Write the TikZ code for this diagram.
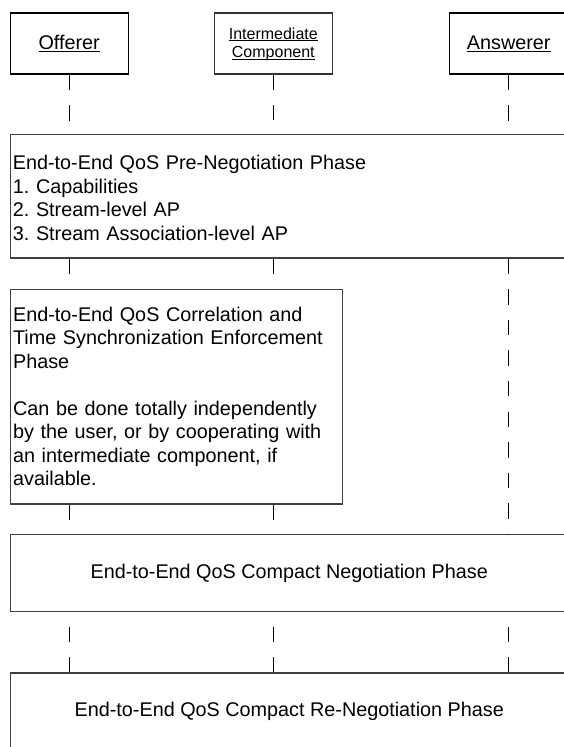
\documentclass[tikz,border=0pt]{standalone}
\usepackage{fontspec}
\setmainfont{Liberation Sans}
\frenchspacing

\newcommand{\actorname}[1]{\underline{\raisebox{0pt}[\height][0pt]{#1}}}

\begin{document}
\begin{tikzpicture}[
            x=1pt, y=-1pt,
            actor/.style={draw, line width=1.4pt, minimum width=118pt, minimum height=61pt, inner sep=0pt, font=\fontsize{19.8}{23.5}\selectfont},
            midactor/.style={actor, line width=1.1pt, draw=black!80, align=center, font=\fontsize{16}{18.5}\selectfont},
            phase/.style={draw=black!75, line width=1.2pt, inner xsep=2.4pt, inner ysep=0pt, font=\fontsize{19.8}{23.5}\selectfont},
            widephase/.style={phase, minimum width=557.5pt, minimum height=77pt},
            lifeline/.style={line width=0.9pt, dash pattern=on 15.3pt off 15.3pt}
        ]
            \useasboundingbox (0,0) rectangle (564,747);
            \clip (0,0) rectangle (564,747);

            \node [actor] (off) at (69.2,43.5) {\actorname{Offerer}};
            \node [midactor] (mid) at (273.3,43.5) {\actorname{Intermediate}\\\actorname{Component}};
            \node [actor] (ans) at (508.7,43.5) {\actorname{Answerer}};

            \node [phase, minimum height=123.7pt, text width=552.7pt, align=left] (pre) at (289.25,196.15)
                {\rule{0pt}{18pt}End-to-End QoS Pre-Negotiation Phase\\1. Capabilities\\2. Stream-level AP\\3. Stream Association-level AP};
            \node [phase, minimum height=214.7pt, text width=326.8pt, align=left] (corr) at (176.5,396.65)
                {End-to-End QoS Correlation and\\Time Synchronization Enforcement\\Phase\\[23.5pt]Can be done totally independently\\by the user, or by cooperating with\\an intermediate component, if\\available.};
            \node [widephase] (neg) at (289.25,573.2) {End-to-End QoS Compact Negotiation Phase};
            \node [widephase] (reneg) at (289.25,711.5) {End-to-End QoS Compact Re-Negotiation Phase};

            % lifelines between the phases
            \foreach \a in {off, mid, ans}
                \draw [lifeline] (\a.south) -- (\a.south |- pre.north);
            \foreach \a in {off, mid}
                \draw [lifeline] (\a.south |- pre.south) -- (\a.south |- corr.north);
            \draw [lifeline] (ans.south |- pre.south) -- (ans.south |- neg.north);
            \foreach \a in {off, mid}
                \draw [lifeline] (\a.south |- corr.south) -- (\a.south |- neg.north);
            \foreach \a in {off, mid, ans}
                \draw [lifeline] (\a.south |- reneg.north) -- (\a.south |- neg.south);

        \end{tikzpicture}
\end{document}
